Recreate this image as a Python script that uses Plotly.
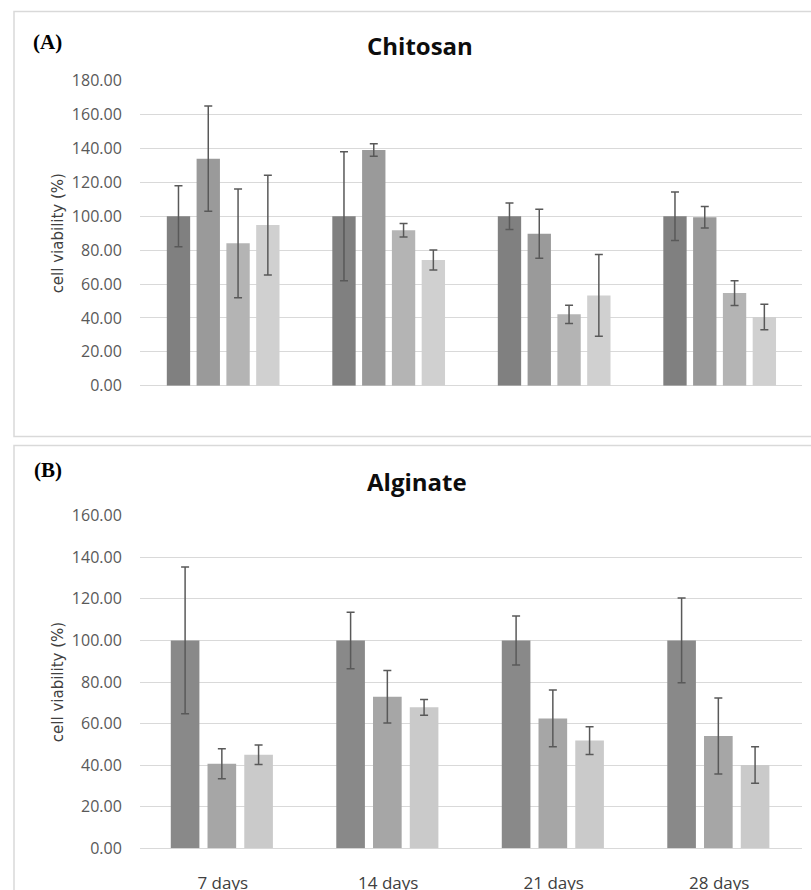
import plotly.graph_objects as go

# ---------------- data ----------------
categories = ["7 days", "14 days", "21 days", "28 days"]

chitosan_names = ["Series 1", "Series 2", "Series 3", "Series 4"]
chitosan_s1 = [100.0, 100.0, 100.0, 100.0]
chitosan_s1_err = [18.0, 38.0, 7.8, 14.3]
chitosan_s2 = [134.0, 139.1, 89.7, 99.4]
chitosan_s2_err = [31.0, 3.7, 14.5, 6.4]
chitosan_s3 = [84.0, 91.7, 42.1, 54.7]
chitosan_s3_err = [32.1, 4.0, 5.4, 7.3]
chitosan_s4 = [94.8, 74.2, 53.3, 40.5]
chitosan_s4_err = [29.4, 5.9, 24.1, 7.5]

alginate_names = ["Series 1", "Series 2", "Series 3"]
alginate_s1 = [100.0, 100.0, 100.0, 100.0]
alginate_s1_err = [35.3, 13.6, 11.8, 20.4]
alginate_s2 = [40.7, 72.9, 62.5, 54.0]
alginate_s2_err = [7.2, 12.6, 13.7, 18.3]
alginate_s3 = [45.0, 67.8, 51.8, 40.1]
alginate_s3_err = [4.7, 3.8, 6.7, 8.8]

y_ticks_top = [0, 20, 40, 60, 80, 100, 120, 140, 160, 180]
y_ticks_bottom = [0, 20, 40, 60, 80, 100, 120, 140, 160]

# ---------------- styling ----------------
W, H = 811, 890
def px(x):
    return x / W
def py(y):
    return 1 - y / H

top_colors = ["#808080", "#9a9a9a", "#b4b4b4", "#d0d0d0"]
bot_colors = ["#898989", "#a6a6a6", "#cacaca"]
top_offsets = [-0.338, -0.158, 0.022, 0.202]
top_width = 0.141
bot_offsets = [-0.314, -0.092, 0.130]
bot_width = 0.173

err_style = dict(type="data", symmetric=True, color="#595959", thickness=1.5, width=4)

fig = go.Figure()

top_series = [chitosan_s1, chitosan_s2, chitosan_s3, chitosan_s4]
top_errs = [chitosan_s1_err, chitosan_s2_err, chitosan_s3_err, chitosan_s4_err]
for i, (vals, errs) in enumerate(zip(top_series, top_errs)):
    fig.add_trace(go.Bar(
        x=categories, y=vals, name=chitosan_names[i],
        marker=dict(color=top_colors[i], line=dict(width=0)),
        width=top_width, offset=top_offsets[i],
        error_y=dict(array=errs, **err_style),
        xaxis="x", yaxis="y", showlegend=False, hoverinfo="skip",
    ))

bot_series = [alginate_s1, alginate_s2, alginate_s3]
bot_errs = [alginate_s1_err, alginate_s2_err, alginate_s3_err]
for i, (vals, errs) in enumerate(zip(bot_series, bot_errs)):
    fig.add_trace(go.Bar(
        x=categories, y=vals, name=alginate_names[i],
        marker=dict(color=bot_colors[i], line=dict(width=0)),
        width=bot_width, offset=bot_offsets[i],
        error_y=dict(array=errs, **err_style),
        xaxis="x2", yaxis="y2", showlegend=False, hoverinfo="skip",
    ))

tick_font = dict(family="Open Sans, sans-serif", size=16, color="#595959")
cat_font = dict(family="Open Sans, sans-serif", size=17, color="#404040")
ytitle_font = dict(family="DejaVu Sans, sans-serif", size=15, color="#404040")
grid = "#d9d9d9"

x_dom = [px(140), px(802)]

fig.update_layout(
    width=W, height=H, autosize=False,
    margin=dict(l=0, r=0, t=0, b=0, pad=0),
    paper_bgcolor="white", plot_bgcolor="white",
    barmode="overlay",
    xaxis=dict(domain=x_dom, anchor="y", type="category", automargin=False,
               categoryorder="array", categoryarray=categories,
               showticklabels=False, showgrid=False, showline=False,
               ticks="", zeroline=False),
    yaxis=dict(domain=[py(385.7), py(80.7)], anchor="x", automargin=False,
               range=[0, 180], tickvals=y_ticks_top, tickformat=".2f",
               showgrid=True, gridcolor=grid, gridwidth=1.3,
               zeroline=True, zerolinecolor=grid, zerolinewidth=1.3,
               showline=False, ticks="outside", ticklen=14,
               tickcolor="rgba(0,0,0,0)", tickfont=tick_font,
               title=dict(text="cell viability (%)", font=ytitle_font, standoff=4)),
    xaxis2=dict(domain=x_dom, anchor="y2", type="category", automargin=False,
                categoryorder="array", categoryarray=categories,
                showgrid=False, showline=False, zeroline=False,
                ticks="outside", ticklen=19, tickcolor="rgba(0,0,0,0)",
                tickfont=cat_font),
    yaxis2=dict(domain=[py(848.3), py(515.7)], anchor="x2", automargin=False,
                range=[0, 160], tickvals=y_ticks_bottom, tickformat=".2f",
                showgrid=True, gridcolor=grid, gridwidth=1.3,
                zeroline=True, zerolinecolor=grid, zerolinewidth=1.3,
                showline=False, ticks="outside", ticklen=14,
                tickcolor="rgba(0,0,0,0)", tickfont=tick_font,
                title=dict(text="cell viability (%)", font=ytitle_font, standoff=4)),
    shapes=[
        dict(type="rect", xref="paper", yref="paper",
             x0=px(14), x1=px(830), y0=py(436.5), y1=py(11.5),
             line=dict(color="#d9d9d9", width=1.5), fillcolor="rgba(0,0,0,0)"),
        dict(type="rect", xref="paper", yref="paper",
             x0=px(14), x1=px(830), y0=py(910), y1=py(445.5),
             line=dict(color="#d9d9d9", width=1.5), fillcolor="rgba(0,0,0,0)"),
    ],
    annotations=[
        dict(text="<b>(A)</b>", x=px(47), y=py(42.5), xref="paper", yref="paper",
             showarrow=False, xanchor="center", yanchor="middle",
             font=dict(family="Liberation Serif, Times New Roman, serif", size=21, color="#000000")),
        dict(text="<b>Chitosan</b>", x=px(420), y=py(46), xref="paper", yref="paper",
             showarrow=False, xanchor="center", yanchor="middle",
             font=dict(family="Open Sans, sans-serif", size=24, color="#0d0d0d")),
        dict(text="<b>(B)</b>", x=px(47.5), y=py(470), xref="paper", yref="paper",
             showarrow=False, xanchor="center", yanchor="middle",
             font=dict(family="Liberation Serif, Times New Roman, serif", size=21, color="#000000")),
        dict(text="<b>Alginate</b>", x=px(417), y=py(481), xref="paper", yref="paper",
             showarrow=False, xanchor="center", yanchor="middle",
             font=dict(family="Open Sans, sans-serif", size=24, color="#0d0d0d")),
    ],
)

# remove the browser's default 8px page margin so the figure fills the window exactly
fig.write_html("out.html", config={"displayModeBar": False},
               post_script="document.body.style.margin='0';document.body.style.overflow='hidden';")
